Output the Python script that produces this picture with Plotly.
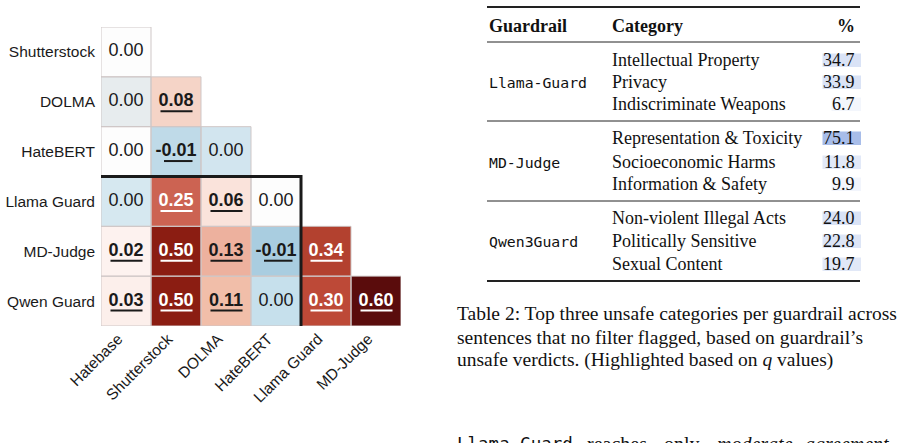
import plotly.graph_objects as go

W, H = 899, 443

# ---------------- heatmap data ----------------
row_labels = ["Shutterstock", "DOLMA", "HateBERT", "Llama Guard", "MD-Judge", "Qwen Guard"]
col_labels = ["Hatebase", "Shutterstock", "DOLMA", "HateBERT", "Llama Guard", "MD-Judge"]

# unrounded agreement estimates (colour) ; shown rounded to 2 decimals
corr = [
    [0.000, None, None, None, None, None],
    [-0.001, 0.080, None, None, None, None],
    [0.000, -0.010, -0.0035, None, None, None],
    [-0.003, 0.250, 0.060, 0.000, None, None],
    [0.020, 0.500, 0.130, -0.014, 0.340, None],
    [0.030, 0.500, 0.110, -0.0045, 0.300, 0.600],
]
significant = [
    [False],
    [False, True],
    [False, True, False],
    [False, True, True, False],
    [True, True, True, True, True],
    [True, True, True, False, True, True],
]

# ---------------- table data ----------------
guardrails = ["Llama-Guard", "MD-Judge", "Qwen3Guard"]
categories = [
    ["Intellectual Property", "Privacy", "Indiscriminate Weapons"],
    ["Representation & Toxicity", "Socioeconomic Harms", "Information & Safety"],
    ["Non-violent Illegal Acts", "Politically Sensitive", "Sexual Content"],
]
percents = [
    [34.7, 33.9, 6.7],
    [75.1, 11.8, 9.9],
    [24.0, 22.8, 19.7],
]
q_shade = [
    [0.42, 0.42, 0.14],
    [1.00, 0.33, 0.15],
    [0.42, 0.39, 0.35],
]

caption_lines = [
    "Table 2: Top three unsafe categories per guardrail across",
    "sentences that no filter flagged, based on guardrail\u2019s",
    "unsafe verdicts. (Highlighted based on <i>q</i> values)",
]
body_words = ["Llama-Guard", "reaches", "only", "<i>moderate</i>", "<i>agreement</i>"]
body_word_x = [455, 585, 662, 715, 803]

# ---------------- styles ----------------
SANS = "Liberation Sans, Arial, Helvetica, sans-serif"
SERIF = "Liberation Serif, Times New Roman, serif"
MONO = "DejaVu Sans Mono, monospace"
ZMIN, ZMAX = -0.02, 0.60
stops = [
    (-0.020, "#94c1dc"), (-0.014, "#a9cde0"), (-0.010, "#bfdae8"),
    (-0.0045, "#c6e0ec"), (-0.0035, "#d2e5ef"), (-0.003, "#d6e8f0"),
    (-0.001, "#e7ecee"), (0.000, "#fdfdfd"), (0.020, "#fdf2ef"),
    (0.030, "#fcefeb"), (0.060, "#fae3db"), (0.080, "#f5d4c7"),
    (0.110, "#f1bea9"), (0.130, "#edb19e"), (0.250, "#cc6352"),
    (0.300, "#bd4937"), (0.340, "#b3412f"), (0.500, "#8b1d12"),
    (0.600, "#5a0c0c"),
]
colorscale = [[(v - ZMIN) / (ZMAX - ZMIN), c] for v, c in stops]


def px(x):
    return x / W


def py(y):
    return 1 - y / H


fig = go.Figure()
fig.add_trace(go.Heatmap(
    z=corr, x=list(range(6)), y=list(range(6)),
    colorscale=colorscale, zmin=ZMIN, zmax=ZMAX,
    showscale=False, hoverinfo="skip",
))

tx, ty, tt, tc = [], [], [], []
shapes = []
for i, row in enumerate(corr):
    for j, v in enumerate(row):
        if v is None:
            continue
        s = f"{v:.2f}"
        if s == "-0.00":
            s = "0.00"
        sig = significant[i][j]
        col = "#ffffff" if v >= 0.2 else "#1a1a1a"
        tx.append(j)
        ty.append(i)
        tt.append(f"<b>{s}</b>" if sig else s)
        tc.append(col)
        shapes.append(dict(type="rect", xref="x", yref="y",
                           x0=j - 0.5, x1=j + 0.5, y0=i - 0.5, y1=i + 0.5,
                           line=dict(color="#cfc7c7", width=1)))
        if sig:
            left = j - 0.24 if v < 0 else j - 0.31
            shapes.append(dict(type="line", xref="x", yref="y",
                               x0=left, x1=j + 0.33, y0=i + 0.19, y1=i + 0.19,
                               line=dict(color=col, width=2)))

fig.add_trace(go.Scatter(
    x=tx, y=ty, text=tt, mode="text", textposition="middle center",
    textfont=dict(family=SANS, size=18, color=tc), hoverinfo="skip",
))

# thick separator between filters and guardrails
shapes.append(dict(type="path", xref="x", yref="y",
                   path="M -0.5,2.5 L 3.5,2.5 L 3.5,5.5",
                   line=dict(color="#1a1a1a", width=3)))

annotations = []

# ---------------- table ----------------
TL, TR = 487, 860
for yy, w in [(7, 1.8), (42, 1.0), (121, 1.0), (201, 1.0), (281, 1.8)]:
    shapes.append(dict(type="line", xref="paper", yref="paper",
                       x0=px(TL), x1=px(TR), y0=py(yy), y1=py(yy),
                       line=dict(color="#222222", width=w)))

tab_font = dict(family=SERIF, size=18, color="#111111")
cap_font = dict(family=SERIF, size=19.5, color="#111111")
body_font = dict(family=SERIF, size=20, color="#111111")
annotations.append(dict(x=px(487), y=py(26), text="<b>Guardrail</b>", xanchor="left"))
annotations.append(dict(x=px(610), y=py(26), text="<b>Category</b>", xanchor="left"))
annotations.append(dict(x=px(857), y=py(26), text="<b>%</b>", xanchor="right"))

row_y = [[60, 82, 104], [138, 162, 184], [218, 241, 264]]
for g in range(3):
    annotations.append(dict(x=px(487), y=py(row_y[g][1]), text=guardrails[g],
                            xanchor="left", font=dict(family=MONO, size=14.8, color="#111111")))
    for k in range(3):
        yc = row_y[g][k]
        annotations.append(dict(x=px(610), y=py(yc), text=categories[g][k], xanchor="left"))
        val = f"{percents[g][k]:.1f}"
        annotations.append(dict(x=px(857), y=py(yc), text=val, xanchor="right"))
        # highlight box
        tw = (len(val) - 1) * 0.5 * 18 + 0.25 * 18
        lvl = q_shade[g][k]
        base = (168, 189, 233)
        rgb = tuple(round(255 - (255 - b) * lvl) for b in base)
        shapes.append(dict(type="rect", xref="paper", yref="paper", layer="below",
                           x0=px(857 - tw - 3), x1=px(861),
                           y0=py(yc + 7), y1=py(yc - 6.5),
                           fillcolor=f"rgb{rgb}", line=dict(width=0)))

# caption
for n, line in enumerate(caption_lines):
    annotations.append(dict(x=px(455), y=py([313, 337, 360][n]), text=line,
                            xanchor="left", font=cap_font))

# body text line (cut by the bottom edge, as in the page)
for n, w in enumerate(body_words):
    f = dict(family=MONO, size=17.5, color="#111111") if n == 0 else body_font
    annotations.append(dict(x=px(body_word_x[n]), y=py(444), xanchor="left",
                            text=w, font=f))

for a in annotations:
    a.setdefault("xref", "paper")
    a.setdefault("yref", "paper")
    a.setdefault("showarrow", False)
    a.setdefault("yanchor", "middle")
    a.setdefault("font", tab_font)

fig.update_layout(
    width=W, height=H,
    margin=dict(l=0, r=0, t=0, b=0, autoexpand=False),
    paper_bgcolor="white", plot_bgcolor="white",
    showlegend=False,
    shapes=shapes, annotations=annotations,
    xaxis=dict(domain=[px(101), px(401)], range=[-0.5, 5.5], automargin=False,
               tickvals=list(range(6)), ticktext=col_labels, tickangle=-45,
               ticklabelshift=-8,
               showgrid=False, zeroline=False, showline=False, ticks="",
               tickfont=dict(family=SANS, size=15.5, color="#1a1a1a")),
    yaxis=dict(domain=[py(326), py(27)], range=[5.5, -0.5], automargin=False,
               tickvals=list(range(6)), ticktext=row_labels,
               showgrid=False, zeroline=False, showline=False, ticks="",
               ticklabelstandoff=5,
               tickfont=dict(family=SANS, size=15.5, color="#1a1a1a")),
)

fig.write_html("out.html")
